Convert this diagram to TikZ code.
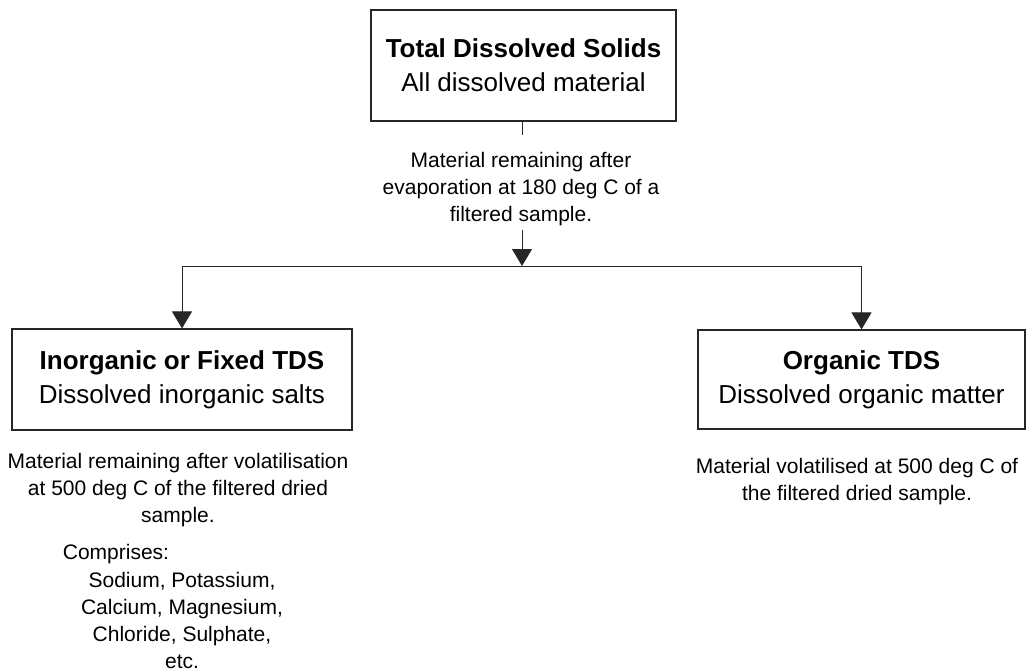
\documentclass[tikz,border=0pt]{standalone}
\usepackage{fontspec}
\setmainfont{Liberation Sans}
\usetikzlibrary{arrows.meta}
\begin{document}
\begin{tikzpicture}[x=1pt,y=-1pt,
  box/.style={draw=black!85,line width=1.1pt,rectangle,align=center,inner sep=0pt,font=\fontsize{26}{34}\selectfont},
  note/.style={align=center,inner sep=0pt,font=\fontsize{21}{27}\selectfont},
  conn/.style={line width=1pt,black!85},
  arr/.style={conn,-{Triangle[width=20pt,length=17pt]}}]
\useasboundingbox (0,0) rectangle (1028,671);
\node[box,minimum width=305pt,minimum height=111pt] (top) at (523.5,65.5) {\textbf{Total Dissolved Solids}\\All dissolved material};
\node[box,minimum width=340pt,minimum height=101pt] (left) at (182,379.5) {\textbf{Inorganic or Fixed TDS}\\Dissolved inorganic salts};
\node[box,minimum width=327pt,minimum height=99pt] (right) at (861.5,379.5) {\textbf{Organic TDS}\\Dissolved organic matter};
\node[note] (midtext) at (521,189) {Material remaining after\\evaporation at 180 deg C of a\\filtered sample.};
\node[note] (lefttext) at (178,490) {Material remaining after volatilisation\\at 500 deg C of the filtered dried\\sample.};
\node[note] (comprises) at (116,554) {Comprises:};
\node[note] (list) at (182,620) {Sodium, Potassium,\\Calcium, Magnesium,\\Chloride, Sulphate,\\etc.};
\node[note] (righttext) at (857,481.5) {Material volatilised at 500 deg C of\\the filtered dried sample.};
\coordinate (a1) at (522,135);
\coordinate (a2) at (522,230);
\coordinate (j) at (522,266);
\draw[conn] (top.south -| a1) -- (a1);
\draw[arr] (a2) -- (j);
\draw[conn] (left.north |- j) -- (right.north |- j);
\draw[arr] (left.north |- j) -- (left.north);
\draw[arr] (right.north |- j) -- (right.north);
\end{tikzpicture}
\end{document}
